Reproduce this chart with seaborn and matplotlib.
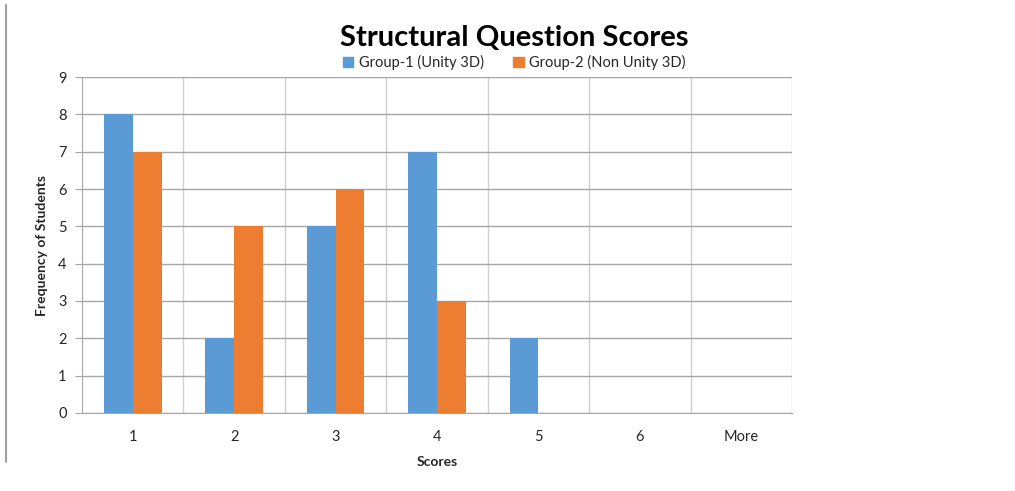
import matplotlib
matplotlib.use("Agg")
import matplotlib.pyplot as plt
from matplotlib.lines import Line2D
import pandas as pd
import seaborn as sns

# chart data
scores = ["1", "2", "3", "4", "5", "6", "More"]
group1 = [8, 2, 5, 7, 2, 0, 0]
group2 = [7, 5, 6, 3, 0, 0, 0]
series = ["Group-1 (Unity 3D)", "Group-2 (Non Unity 3D)"]
colors = ["#5B9BD5", "#ED7D31"]

df = pd.DataFrame({
    "Scores": scores * 2,
    "Frequency": group1 + group2,
    "Group": [series[0]] * len(scores) + [series[1]] * len(scores),
})

sns.set_style("white")
plt.rcParams["font.family"] = ["Lato", "DejaVu Sans"]

fig = plt.figure(figsize=(10.15, 4.91), dpi=100)
ax = fig.add_axes([0.0808, 0.159, 0.6995, 0.684])

sns.barplot(data=df, x="Scores", y="Frequency", hue="Group",
            palette=colors, width=0.57, saturation=1, linewidth=0,
            ax=ax, legend=False)

ax.set_xlim(-0.5, len(scores) - 0.5)
ax.set_ylim(0, 9)
ax.set_yticks(range(0, 10))

# horizontal gridlines
ax.yaxis.grid(True, color="#A6A6A6", linewidth=1)
ax.set_axisbelow(True)
# vertical lines between categories
for b in range(len(scores)):
    ax.axvline(b + 0.5, color="#D0D0D0", linewidth=1, zorder=0)
ax.set_xticks([b + 0.5 for b in range(-1, len(scores))], minor=True)
ax.tick_params(axis="x", which="minor", length=5, color="#BFBFBF", width=1)
ax.tick_params(axis="x", which="major", length=0, labelsize=10.5, pad=12, colors="#262626")
ax.tick_params(axis="y", length=5, color="#A6A6A6", labelsize=10.5, pad=6, colors="#262626", left=True)

for s in ["top", "right"]:
    ax.spines[s].set_visible(False)
ax.spines["left"].set_color("#A6A6A6")
ax.spines["bottom"].set_color("#A6A6A6")

ax.set_xlabel("Scores", fontsize=10, fontweight="bold", labelpad=9)
ax.set_ylabel("Frequency of Students", fontsize=10, fontweight="bold", labelpad=7)

fig.text(0.507, 0.922, "Structural Question Scores", ha="center", va="center",
         fontsize=21, fontweight="bold", color="black")

handles = [plt.Rectangle((0, 0), 1, 1, color=c) for c in colors]
fig.legend(handles, series, loc="center", bbox_to_anchor=(0.507, 0.873), ncol=2,
           frameon=False, fontsize=10.5, handlelength=0.7, handleheight=0.7,
           handletextpad=0.4, columnspacing=2.0, labelcolor="#262626")

# left border line of the original image
fig.add_artist(Line2D([0.006, 0.006], [0.06, 0.99], color="#A0A0A0", linewidth=1.5))

fig.savefig("out.png", dpi=100)
